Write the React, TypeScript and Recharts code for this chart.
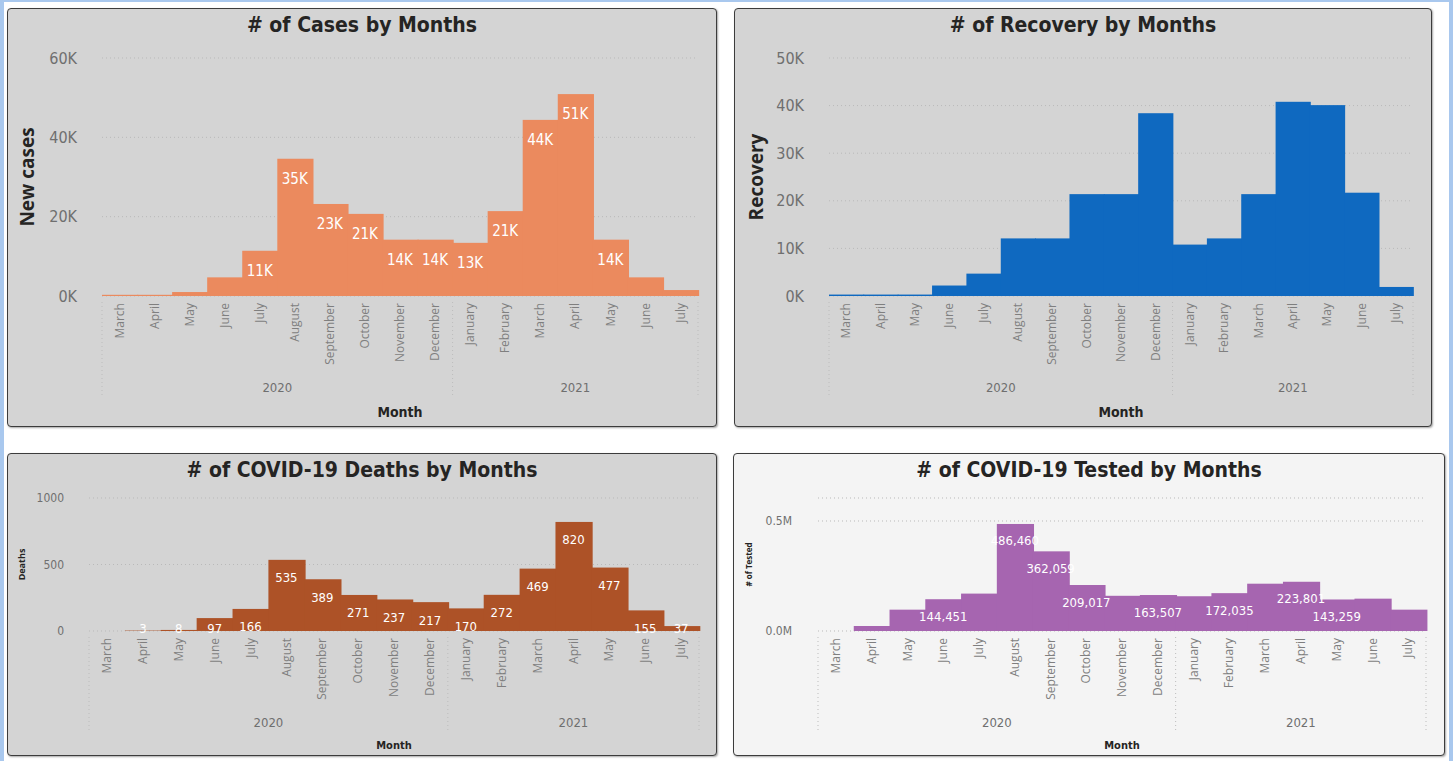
import React from 'react';
import { BarChart, Bar, XAxis, YAxis, CartesianGrid, LabelList } from 'recharts';

// months Mar 2020 .. Jul 2021
const MONTHS = [
  'March', 'April', 'May', 'June', 'July', 'August', 'September', 'October', 'November', 'December',
  'January', 'February', 'March', 'April', 'May', 'June', 'July',
];
const YEARS = [
  '2020', '2020', '2020', '2020', '2020', '2020', '2020', '2020', '2020', '2020',
  '2021', '2021', '2021', '2021', '2021', '2021', '2021',
];

const CASES = [300, 300, 1000, 4700, 11400, 34600, 23200, 20700, 14200, 14200, 13400, 21400, 44400, 50900, 14200, 4700, 1500];
const RECOVERY = [300, 300, 300, 2200, 4700, 12100, 12100, 21400, 21400, 38400, 10800, 12100, 21400, 40800, 40100, 21700, 1900];
const DEATHS = [0, 3, 8, 97, 166, 535, 389, 271, 237, 217, 170, 272, 469, 820, 477, 155, 37];
const TESTED = [0, 22700, 97000, 144451, 170000, 486460, 362059, 209017, 160000, 163507, 158000, 172035, 215000, 223801, 143259, 147000, 97000];
// Power BI hides the labels that would collide
const TESTED_LABEL_SHOWN = [false, false, false, true, false, true, true, true, false, true, false, true, false, true, true, false, false];

const DIN = "'DejaVu Sans Condensed', 'DejaVu Sans', sans-serif";
const SEGOE = "'Open Sans', 'Noto Sans', sans-serif";

type Spec = {
  key: string;
  title: string;
  yTitle: string;
  values: number[];
  color: string;
  bg: string;
  left: number;
  top: number;
  width: number;
  height: number;
  plotLeft: number;
  plotTop: number;
  plotH: number;
  marginRight: number;
  tickGap: number;
  tickSize: number;
  yTitleX: number;
  yTitleSize: number;
  domainMax: number;
  ticks: number[];
  tickFmt: (v: number) => string;
  monthH: number;
  yearDy: number;
  monthTitleDy: number;
  monthTitleSize: number;
  labelSize: number;
  labelDy: number;
  labelShown: (i: number, v: number) => boolean;
  labelFmt: (v: number) => string;
};

const kFmt = (v: number) => `${Math.round(v / 1000)}K`;

const SPECS: Spec[] = [
  {
    key: 'cases', title: '# of Cases by Months', yTitle: 'New cases', values: CASES, color: '#eb8a5e', bg: '#d4d4d4',
    left: 7, top: 8, width: 710, height: 419, plotLeft: 95, plotTop: 50, plotH: 238, marginRight: 19,
    tickGap: 25, tickSize: 16, yTitleX: 20, yTitleSize: 19, domainMax: 60000, ticks: [0, 20000, 40000, 60000], tickFmt: kFmt,
    monthH: 78, yearDy: 13, monthTitleDy: 38, monthTitleSize: 14,
    labelSize: 15, labelDy: 20, labelShown: (_i, v) => v >= 10000, labelFmt: kFmt,
  },
  {
    key: 'recovery', title: '# of Recovery by Months', yTitle: 'Recovery', values: RECOVERY, color: '#0f69c0', bg: '#d4d4d4',
    left: 734, top: 8, width: 698, height: 419, plotLeft: 95, plotTop: 50, plotH: 238, marginRight: 19,
    tickGap: 25, tickSize: 16, yTitleX: 22, yTitleSize: 19, domainMax: 50000, ticks: [0, 10000, 20000, 30000, 40000, 50000], tickFmt: kFmt,
    monthH: 78, yearDy: 13, monthTitleDy: 38, monthTitleSize: 14,
    labelSize: 15, labelDy: 20, labelShown: () => false, labelFmt: kFmt,
  },
  {
    key: 'deaths', title: '# of COVID-19 Deaths by Months', yTitle: 'Deaths', values: DEATHS, color: '#ad5227', bg: '#d4d4d4',
    left: 7, top: 453, width: 710, height: 303, plotLeft: 82, plotTop: 45, plotH: 133, marginRight: 18,
    tickGap: 25, tickSize: 12, yTitleX: 14, yTitleSize: 9, domainMax: 1000, ticks: [0, 500, 1000], tickFmt: (v) => `${v}`,
    monthH: 78, yearDy: 13, monthTitleDy: 36, monthTitleSize: 11,
    labelSize: 13, labelDy: 18, labelShown: (_i, v) => v > 0, labelFmt: (v) => `${v}`,
  },
  {
    key: 'tested', title: '# of COVID-19 Tested by Months', yTitle: '# of Tested', values: TESTED, color: '#a665b0', bg: '#f4f4f4',
    left: 733, top: 453, width: 712, height: 303, plotLeft: 85, plotTop: 45, plotH: 133, marginRight: 19,
    tickGap: 26, tickSize: 12, yTitleX: 15, yTitleSize: 8, domainMax: 604500, ticks: [0, 500000], tickFmt: (v) => `${(v / 1e6).toFixed(1)}M`,
    monthH: 78, yearDy: 13, monthTitleDy: 36, monthTitleSize: 11,
    labelSize: 13, labelDy: 17, labelShown: (i) => TESTED_LABEL_SHOWN[i], labelFmt: (v) => v.toLocaleString('en-US'),
  },
];

function Panel({ s }: { s: Spec }) {
  const rows = s.values.map((v, i) => ({
    key: `${YEARS[i]}-${i}`,
    value: v,
    label: s.labelShown(i, v) ? s.labelFmt(v) : '',
  }));
  const band = (s.width - s.plotLeft - s.marginRight) / rows.length;
  const yearH = s.height - s.plotTop - s.plotH - s.monthH;

  const monthTick = (p: any) => {
    const ty = p.y + 7;
    return (
      <text x={p.x} y={ty} transform={`rotate(-90, ${p.x}, ${ty})`} textAnchor="end" dy="0.35em"
        fill="#7f7f7f" fontSize={12} fontFamily={SEGOE}>
        {MONTHS[p.index]}
      </text>
    );
  };

  const yearTick = (p: any) => {
    const i = p.index;
    const yr = YEARS[i];
    const isFirst = i === 0 || YEARS[i - 1] !== yr;
    const isLast = i === YEARS.length - 1;
    const sepTop = p.y - s.monthH + 6;
    const sepBottom = p.y + 24;
    const count = YEARS.filter((y) => y === yr).length;
    const left = p.x - band / 2;
    return (
      <g>
        {isFirst && (
          <>
            <line x1={left} x2={left} y1={sepTop} y2={sepBottom} stroke="#bcbcbc" strokeDasharray="1 3" />
            <text x={left + (count * band) / 2} y={p.y + s.yearDy} textAnchor="middle" dominantBaseline="central"
              fill="#6f6f6f" fontSize={13} fontFamily={DIN}>
              {yr}
            </text>
          </>
        )}
        {isLast && (
          <line x1={p.x + band / 2} x2={p.x + band / 2} y1={sepTop} y2={sepBottom} stroke="#bcbcbc" strokeDasharray="1 3" />
        )}
      </g>
    );
  };

  const barLabel = (p: any) => {
    if (!p.value) return null;
    const base = p.y + p.height;
    const cy = Math.min(p.y + s.labelDy, base - 3);
    return (
      <text x={p.x + p.width / 2} y={cy} textAnchor="middle" dominantBaseline="central" fill="#ffffff"
        fontSize={s.labelSize} fontFamily={DIN}>
        {p.value}
      </text>
    );
  };

  // step look: each bar overlaps the next a little so no seams show
  const stepBar = (p: any) => {
    if (!p.height || p.height <= 0) return <g />;
    return <rect x={p.x} y={p.y} width={p.width + 1.2} height={p.height} fill={s.color} />;
  };

  return (
    <div style={{ position: 'absolute', left: s.left, top: s.top, width: s.width, height: s.height }}>
      <div
        style={{
          position: 'absolute', left: 0, top: 0, width: s.width, height: s.height, boxSizing: 'border-box',
          background: s.bg, border: '1.5px solid #3c3c3c', borderRadius: 4, boxShadow: '1px 1px 2px rgba(0,0,0,0.35)',
        }}
      />
      <div
        style={{
          position: 'absolute', left: 0, top: 3, width: s.width, textAlign: 'center', fontFamily: DIN,
          fontWeight: 700, fontSize: 21, color: '#252423', lineHeight: '28px',
        }}
      >
        {s.title}
      </div>
      <div style={{ position: 'absolute', left: 0, top: 0 }}>
        <BarChart
          width={s.width}
          height={s.height}
          data={rows}
          margin={{ top: s.plotTop, right: s.marginRight, left: 0, bottom: 0 }}
          barCategoryGap={0}
          barGap={0}
        >
          <CartesianGrid vertical={false} stroke="#b9b9b9" strokeDasharray="1 3" />
          <XAxis dataKey="key" interval={0} height={s.monthH} tick={monthTick} tickLine={false} axisLine={false}
            tickSize={0} tickMargin={0} />
          <XAxis dataKey="key" xAxisId="year" interval={0} height={yearH} tick={yearTick} tickLine={false}
            axisLine={false} tickSize={0} tickMargin={0}
            label={(lp: any) => (
              <text x={lp.viewBox.x + lp.viewBox.width / 2} y={lp.viewBox.y + s.monthTitleDy} textAnchor="middle"
                dominantBaseline="central" fill="#252423" fontWeight={700} fontSize={s.monthTitleSize} fontFamily={DIN}>
                Month
              </text>
            )}
          />
          <YAxis width={s.plotLeft} domain={[0, s.domainMax]} ticks={s.ticks} tickFormatter={s.tickFmt}
            tickLine={false} axisLine={false} tickSize={0} tickMargin={s.tickGap}
            tick={{ fill: '#6f6f6f', fontSize: s.tickSize, fontFamily: DIN }}
            label={(lp: any) => {
              const cx = lp.viewBox.x + s.yTitleX;
              const cy = lp.viewBox.y + lp.viewBox.height / 2;
              return (
                <text x={cx} y={cy} transform={`rotate(-90, ${cx}, ${cy})`} textAnchor="middle" dominantBaseline="central"
                  fill="#252423" fontWeight={700} fontSize={s.yTitleSize} fontFamily={SEGOE}>
                  {s.yTitle}
                </text>
              );
            }}
          />
          <Bar dataKey="value" fill={s.color} shape={stepBar} isAnimationActive={false}>
            <LabelList dataKey="label" content={barLabel} />
          </Bar>
        </BarChart>
      </div>
    </div>
  );
}

export default function App() {
  return (
    <div style={{ position: 'absolute', left: 0, top: 0, width: 1453, height: 761, background: '#ffffff', overflow: 'hidden' }}>
      <div
        style={{
          position: 'absolute', left: 0, top: 0, width: 1453, height: 780, boxSizing: 'border-box',
          borderLeft: '4px solid #a9c8ee', borderTop: '2px solid #a9c8ee', borderRight: '4px solid #a9c8ee',
        }}
      />
      {SPECS.map((s) => (
        <Panel key={s.key} s={s} />
      ))}
    </div>
  );
}
